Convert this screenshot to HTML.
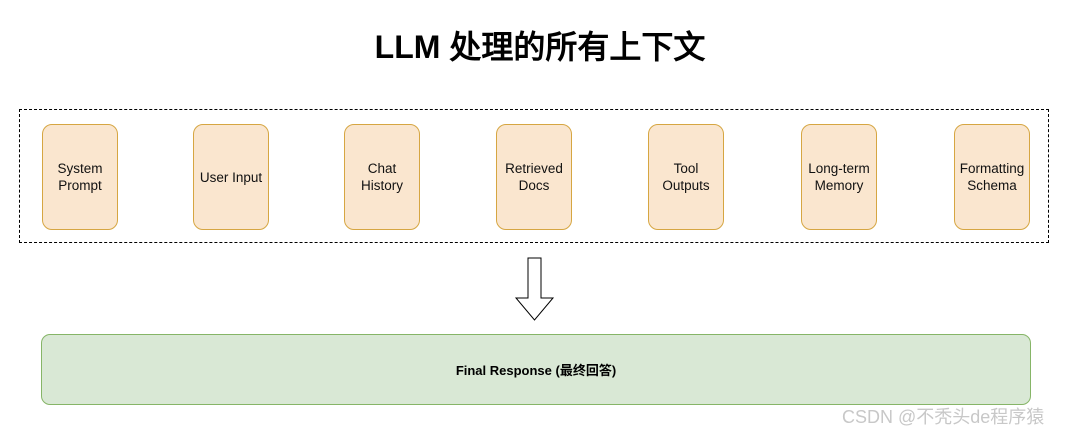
<!DOCTYPE html>
<html><head><meta charset="utf-8"><style>
body{margin:0;width:1080px;height:431px;background:#fff;position:relative;overflow:hidden;font-family:"Liberation Sans","Noto Sans CJK SC",sans-serif;}
.t{position:absolute;left:0;width:1080px;top:22px;text-align:center;font-size:32px;font-weight:bold;color:#000;font-family:"Liberation Sans","WenQuanYi Zen Hei",sans-serif;}
.dash{position:absolute;left:19px;top:109px;width:1030px;height:134px;border:1px dashed #000;box-sizing:border-box;}
.b{position:absolute;top:124px;width:76px;height:106px;background:#fae6cf;border:1px solid #d6a642;border-radius:10px;box-sizing:border-box;display:flex;align-items:center;justify-content:center;text-align:center;font-size:13.5px;line-height:17px;color:#111;}
.g{position:absolute;left:41px;top:334px;width:990px;height:71px;background:#d9e8d5;border:1px solid #86b567;border-radius:9px;box-sizing:border-box;display:flex;align-items:center;justify-content:center;font-size:13px;font-weight:bold;color:#000;}
.w{position:absolute;left:842px;top:403px;font-size:18px;color:#c8c8c8;}
</style></head><body>
<div class="t">LLM 处理的所有上下文</div>
<div class="dash"></div>
<div class="b" style="left:42px">System<br>Prompt</div>
<div class="b" style="left:193px">User Input</div>
<div class="b" style="left:344px">Chat<br>History</div>
<div class="b" style="left:496px">Retrieved<br>Docs</div>
<div class="b" style="left:648px">Tool<br>Outputs</div>
<div class="b" style="left:801px">Long-term<br>Memory</div>
<div class="b" style="left:954px">Formatting<br>Schema</div>
<svg style="position:absolute;left:0;top:0" width="1080" height="431"><polygon points="528,258 541,258 541,298 553,298 534.5,320 516,298 528,298" fill="#fff" stroke="#000" stroke-width="1"/></svg>
<div class="g">Final Response (最终回答)</div>
<div class="w">CSDN @不秃头de程序猿</div>
</body></html>
